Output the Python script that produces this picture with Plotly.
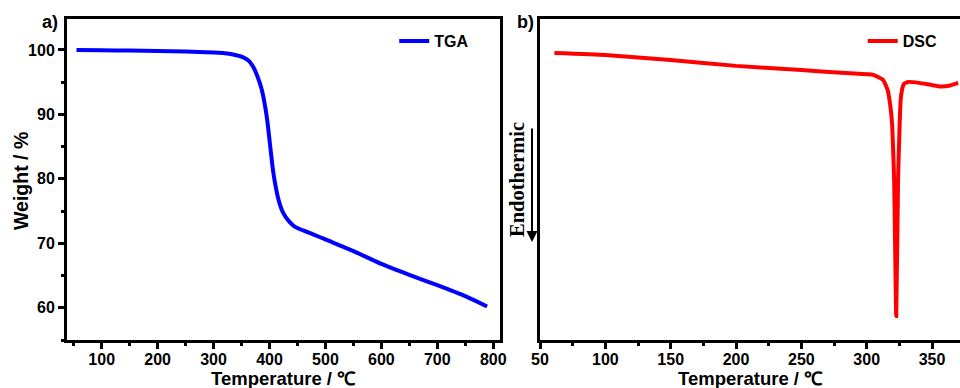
import plotly.graph_objects as go

# TGA data (temperature in °C, weight in %)
tga_temp = [55, 100, 150, 200, 250, 300, 320, 335, 352, 362, 370, 378, 386, 395,
            402, 406, 410, 416, 424, 435, 445, 460, 478, 500, 550, 600, 650, 700, 750, 789]
tga_weight = [100.0, 99.95, 99.9, 99.85, 99.75, 99.6, 99.5, 99.3, 98.9, 98.4, 97.5, 96.0, 93.9, 89.7,
              84.5, 81.5, 79.3, 76.8, 74.8, 73.4, 72.6, 72.0, 71.4, 70.6, 68.8, 66.8, 65.1, 63.5, 61.8, 60.2]

# DSC data (temperature in °C, heat flow in arbitrary units)
dsc_temp = [61, 100, 150, 200, 250, 287, 305, 312.6, 316, 318, 319.5, 321, 322.6,
            324, 325.2, 326, 327, 328.5, 331.8, 340, 350, 357, 364, 370]
dsc_flow = [8.94, 8.88, 8.72, 8.54, 8.41, 8.31, 8.26, 8.10, 7.79, 7.32, 6.70, 4.98, 0.75,
            4.98, 6.70, 7.48, 7.79, 7.98, 8.04, 8.01, 7.94, 7.90, 7.93, 8.01]

left_xticks = [100, 200, 300, 400, 500, 600, 700, 800]
left_yticks = [60, 70, 80, 90, 100]
right_xticks = [50, 100, 150, 200, 250, 300, 350]

FONT = "Liberation Sans, Arial, sans-serif"
SERIF = "Liberation Serif, Times New Roman, serif"

fig = go.Figure()
fig.add_trace(go.Scatter(x=tga_temp, y=tga_weight, mode="lines", name="TGA",
                         line=dict(color="#0000FF", width=4, shape="spline", smoothing=0.6),
                         xaxis="x", yaxis="y", legend="legend"))
fig.add_trace(go.Scatter(x=dsc_temp, y=dsc_flow, mode="lines", name="DSC",
                         line=dict(color="#FF0000", width=4, shape="spline", smoothing=0.4),
                         xaxis="x2", yaxis="y2", legend="legend2"))

tickfont = dict(family=FONT, size=16, color="black", weight="bold")
titlefont = dict(family=FONT, size=18.5, color="black", weight="bold")

axis_common = dict(showline=True, linecolor="black", linewidth=3, showgrid=False,
                   zeroline=False, ticks="outside", tickwidth=2.5, ticklen=6,
                   tickcolor="black", tickfont=tickfont, automargin=False)

y_dom = [0.1237, 0.951]
fig.update_layout(
    template="none",
    width=960, height=388,
    margin=dict(l=0, r=0, t=0, b=0, pad=0),
    paper_bgcolor="white", plot_bgcolor="white",
    xaxis=dict(domain=[0.0698, 0.5208], range=[38, 812], tickvals=left_xticks,
               mirror=True, anchor="y", ticklabelstandoff=-3,
               minor=dict(dtick=50, tick0=50, ticks="outside", ticklen=3, tickwidth=2.5, tickcolor="black"),
               **axis_common),
    yaxis=dict(domain=y_dom, range=[55, 104.8], tickvals=left_yticks, mirror=True, anchor="x",
               minor=dict(dtick=5, tick0=55, ticks="outside", ticklen=3, tickwidth=2.5, tickcolor="black"),
               **axis_common),
    xaxis2=dict(domain=[0.5625, 1.0], range=[50, 371.4], tickvals=right_xticks,
                mirror=True, anchor="y2", ticklabelstandoff=-3,
                minor=dict(dtick=25, tick0=25, ticks="outside", ticklen=3, tickwidth=2.5, tickcolor="black"),
                **axis_common),
    yaxis2=dict(domain=y_dom, range=[0, 10], anchor="x2", showline=True, linecolor="black",
                linewidth=3, showgrid=False, zeroline=False, showticklabels=False, ticks="",
                automargin=False),
    legend=dict(x=0.494, y=0.894, xanchor="right", yanchor="middle",
                font=dict(family=FONT, size=16, color="black", weight="bold"),
                bgcolor="rgba(0,0,0,0)", itemwidth=30),
    legend2=dict(x=0.982, y=0.894, xanchor="right", yanchor="middle",
                 font=dict(family=FONT, size=16, color="black", weight="bold"),
                 bgcolor="rgba(0,0,0,0)", itemwidth=30),
    showlegend=True,
)

# x-axis titles
for cx in (283.5, 750):
    fig.add_annotation(text="Temperature / ℃", xref="paper", yref="paper", x=cx / 960,
                       y=(388 - 378) / 388, showarrow=False, font=titlefont,
                       xanchor="center", yanchor="middle")

fig.add_annotation(text="Weight / %", xref="paper", yref="paper", x=21 / 960, y=(388 - 181) / 388,
                   textangle=-90, showarrow=False,
                   font=dict(family=FONT, size=19.5, color="black", weight="bold"),
                   xanchor="center", yanchor="middle")
fig.add_annotation(text="a)", xref="paper", yref="paper", x=50 / 960, y=(388 - 22) / 388,
                   showarrow=False, font=dict(family=FONT, size=18, color="black", weight="bold"),
                   xanchor="center", yanchor="middle")
fig.add_annotation(text="b)", xref="paper", yref="paper", x=525 / 960, y=(388 - 22) / 388,
                   showarrow=False, font=dict(family=FONT, size=18, color="black", weight="bold"),
                   xanchor="center", yanchor="middle")
fig.add_annotation(text="Endothermic", xref="paper", yref="paper", x=517 / 960, y=(388 - 180) / 388,
                   textangle=-90, showarrow=False, font=dict(family=SERIF, size=20.5, color="black", weight="bold"),
                   xanchor="center", yanchor="middle")
fig.add_annotation(text="", xref="paper", yref="paper", x=532 / 960, y=(388 - 242) / 388,
                   ax=0, ay=-115, showarrow=True, arrowhead=2, arrowsize=1.1, arrowwidth=2,
                   arrowcolor="black")

fig.write_html("out.html", config={"displayModeBar": False},
               post_script="document.body.style.margin='0';document.body.style.padding='0';"
                           "document.documentElement.style.overflow='hidden';")
